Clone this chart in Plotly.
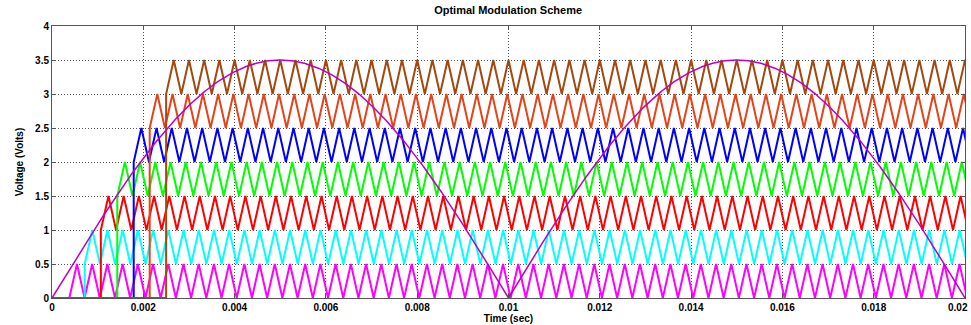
import numpy as np
import plotly.graph_objects as go

# ---- data ----
t_end = 0.02
carrier_freq = 3000.0          # Hz (≈58 periods across 0..0.02 s)
carrier_amp = 0.5              # V peak-to-peak of each level-shifted carrier
carrier_offsets = [0.0, 0.5, 1.0, 1.5, 2.0, 2.5, 3.0]
carrier_delays = [0.00038, 0.000716, 0.00107, 0.00143, 0.00179, 0.00214, 0.0025]
carrier_colors = ["#FF00FF", "#00FFFF", "#FF0000", "#00FF00", "#0000FF", "#E4441A", "#A3480F"]

mod_amp = 3.5                  # V peak of rectified modulating sine
mod_freq = 50.0                # Hz
mod_color = "#BF00BF"

x_ticks = [0, 0.002, 0.004, 0.006, 0.008, 0.01, 0.012, 0.014, 0.016, 0.018, 0.02]
x_tick_labels = ["0", "0.002", "0.004", "0.006", "0.008", "0.01", "0.012", "0.014", "0.016", "0.018", "0.02"]
y_ticks = [0, 0.5, 1, 1.5, 2, 2.5, 3, 3.5, 4]
y_tick_labels = ["0", "0.5", "1", "1.5", "2", "2.5", "3", "3.5", "4"]

fig = go.Figure()

half = 0.5 / carrier_freq
for off, d, col in zip(carrier_offsets, carrier_delays, carrier_colors):
    n = int(np.ceil((t_end - d) / half)) + 1
    tv = d + half * np.arange(n)
    yv = off + carrier_amp * (np.arange(n) % 2)
    xs = np.concatenate([[0.0, d], tv])
    ys = np.concatenate([[0.0, 0.0], yv])
    fig.add_trace(go.Scatter(x=xs, y=ys, mode="lines",
                             line=dict(color=col, width=2), showlegend=False,
                             hoverinfo="skip"))

ts = np.linspace(0, t_end, 2001)
fig.add_trace(go.Scatter(x=ts, y=mod_amp * np.abs(np.sin(2 * np.pi * mod_freq * ts)),
                         mode="lines", line=dict(color=mod_color, width=1.5),
                         showlegend=False, hoverinfo="skip"))

ff = "Liberation Sans, Arial, sans-serif"
axis_common = dict(showline=True, linecolor="#555555", linewidth=1, mirror="ticks",
                   ticks="inside", ticklen=4, tickcolor="#555555",
                   showgrid=True, gridcolor="#555555", griddash="1px,2px", gridwidth=1,
                   zeroline=False, automargin=False,
                   tickfont=dict(family=ff, size=10, color="black"))

# last x tick label is placed as an annotation so it stays inside the page
x_text = ["<b>%s</b>" % s for s in x_tick_labels[:-1]] + [""]

fig.update_layout(
    width=971, height=325,
    margin=dict(l=52, r=6, t=26, b=27, autoexpand=False),
    paper_bgcolor="white", plot_bgcolor="white",
    title=dict(text="<b>Optimal Modulation Scheme</b>", x=0.5233, xanchor="center",
               y=0.98, yanchor="top", font=dict(family=ff, size=11, color="black")),
    xaxis=dict(range=[0, t_end], tickvals=x_ticks, ticktext=x_text,
               title=dict(text="<b>Time (sec)</b>", standoff=0,
                          font=dict(family=ff, size=10, color="black")),
               **axis_common),
    yaxis=dict(range=[0, 4], tickvals=y_ticks,
               ticktext=["<b>%s</b>" % s for s in y_tick_labels],
               title=dict(text="<b>Voltage (Volts)</b>", standoff=9,
                          font=dict(family=ff, size=10, color="black")),
               **axis_common),
    annotations=[dict(text="<b>%s</b>" % x_tick_labels[-1], xref="paper", yref="paper",
                      x=1.0, y=0, xanchor="right", yanchor="top", yshift=-2, xshift=5,
                      showarrow=False, font=dict(family=ff, size=10, color="black"))],
)

fig.write_html("out.html", config={"displayModeBar": False, "staticPlot": True},
               post_script="document.body.style.margin='0';document.body.style.overflow='hidden';")
